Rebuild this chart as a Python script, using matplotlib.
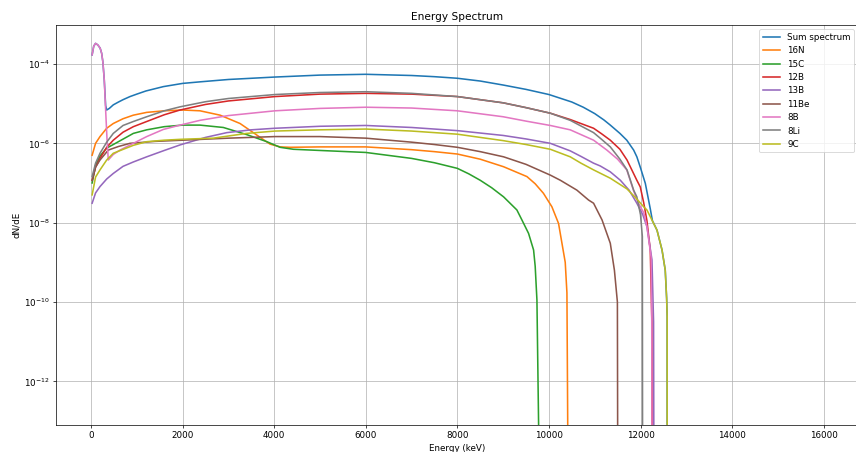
import numpy as np
import matplotlib
matplotlib.use("Agg")
import matplotlib.pyplot as plt

# Energies (keV) and dN/dE, one pair per isotope
e_sum = [25, 60, 100, 150, 200, 233, 260, 290, 320, 343, 400, 487, 600, 700, 852, 1000, 1200,
         1580, 2000, 2381, 3000, 4000, 5000, 6000, 7000, 7500, 8000, 8500, 9000, 9500, 10000,
         10500, 10750, 11000, 11200, 11340, 11550, 11700, 11850, 11920, 12000, 12105, 12213,
         12260, 12360, 12470, 12540, 12570, 12582, 12590]
sum_spectrum = [1.70e-4, 2.82e-4, 3.31e-4, 3.02e-4, 2.51e-4, 1.86e-4, 1.12e-4, 3.98e-5,
                8.91e-6, 6.92e-6, 7.59e-6, 9.33e-6, 1.10e-5, 1.26e-5, 1.51e-5, 1.74e-5,
                2.09e-5, 2.69e-5, 3.24e-5, 3.55e-5, 4.07e-5, 4.68e-5, 5.25e-5, 5.50e-5,
                5.13e-5, 4.79e-5, 4.37e-5, 3.72e-5, 2.95e-5, 2.29e-5, 1.70e-5, 1.10e-5,
                8.13e-6, 5.62e-6, 3.89e-6, 2.88e-6, 1.78e-6, 1.20e-6, 6.76e-7, 4.57e-7,
                2.40e-7, 9.77e-8, 2.24e-8, 1.12e-8, 6.46e-9, 2.04e-9, 6.31e-10, 1.26e-10,
                4.37e-11, 0.0]

e_16n = [25, 100, 197, 343, 487, 700, 925, 1217, 1600, 2000, 2380, 2820, 3255, 3620, 3910,
         4130, 4350, 5000, 6000, 7000, 7500, 8000, 8500, 9010, 9520, 9700, 9880, 10065, 10210,
         10356, 10393, 10415, 10420]
n16 = [5.01e-7, 1.00e-6, 1.48e-6, 2.40e-6, 3.16e-6, 4.17e-6, 5.13e-6, 6.03e-6, 6.61e-6,
       6.92e-6, 6.61e-6, 5.13e-6, 3.16e-6, 1.62e-6, 9.55e-7, 8.13e-7, 7.94e-7, 8.13e-7,
       8.13e-7, 6.92e-7, 6.17e-7, 5.37e-7, 3.98e-7, 2.57e-7, 1.45e-7, 9.55e-8, 5.50e-8,
       2.51e-8, 9.55e-9, 1.00e-9, 1.70e-10, 1.0e-14, 0.0]

e_15c = [25, 100, 197, 343, 487, 925, 1217, 1600, 2000, 2380, 2890, 3400, 3840, 4130, 4420,
         5000, 6000, 7000, 7500, 8000, 8250, 8500, 8750, 9010, 9300, 9410, 9555, 9665, 9700,
         9738, 9785, 9790]
c15 = [1.00e-7, 2.82e-7, 4.79e-7, 7.59e-7, 9.33e-7, 1.78e-6, 2.19e-6, 2.63e-6, 2.88e-6,
       2.88e-6, 2.51e-6, 1.66e-6, 1.10e-6, 7.94e-7, 7.08e-7, 6.61e-7, 5.89e-7, 4.17e-7,
       3.24e-7, 2.34e-7, 1.70e-7, 1.17e-7, 7.59e-8, 4.47e-8, 2.09e-8, 1.17e-8, 5.37e-9,
       2.04e-9, 7.94e-10, 1.12e-10, 1.0e-14, 0.0]

e_12b = [25, 100, 197, 343, 487, 700, 925, 1217, 1600, 1945, 2500, 3000, 4020, 5000, 6000,
         7000, 8000, 9000, 9500, 10030, 10465, 10975, 11150, 11340, 11550, 11705, 11920,
         11995, 12070, 12140, 12213, 12248, 12255, 12262]
b12 = [1.17e-7, 2.51e-7, 4.17e-7, 7.94e-7, 1.20e-6, 1.91e-6, 2.63e-6, 3.55e-6, 5.25e-6,
       6.92e-6, 9.55e-6, 1.17e-5, 1.51e-5, 1.74e-5, 1.82e-5, 1.74e-5, 1.51e-5, 1.05e-5,
       7.94e-6, 5.75e-6, 3.98e-6, 2.40e-6, 1.74e-6, 1.20e-6, 7.08e-7, 3.80e-7, 1.17e-7,
       7.94e-8, 3.16e-8, 1.12e-8, 2.04e-9, 3.16e-11, 1.0e-14, 0.0]

e_13b = [25, 100, 197, 343, 487, 700, 925, 1217, 1600, 1945, 2500, 2965, 3500, 4020, 5000,
         6000, 7000, 8000, 9000, 9500, 10030, 10465, 10700, 10975, 11120, 11340, 11560, 11750,
         11920, 12050, 12140, 12250, 12285, 12292, 12300]
b13 = [3.09e-8, 5.62e-8, 8.13e-8, 1.26e-7, 1.74e-7, 2.63e-7, 3.39e-7, 4.57e-7, 6.61e-7,
       9.12e-7, 1.41e-6, 1.86e-6, 2.19e-6, 2.40e-6, 2.69e-6, 2.82e-6, 2.51e-6, 2.09e-6,
       1.58e-6, 1.29e-6, 1.00e-6, 6.46e-7, 4.68e-7, 3.16e-7, 2.69e-7, 1.91e-7, 1.17e-7,
       6.61e-8, 3.09e-8, 1.58e-8, 7.94e-9, 1.15e-9, 3.16e-11, 1.0e-14, 0.0]

e_11be = [25, 100, 197, 378, 600, 852, 1400, 2000, 3000, 4020, 5000, 6000, 7000, 7500, 8000,
          8500, 9010, 9500, 10030, 10250, 10465, 10610, 10865, 10975, 11160, 11340, 11430,
          11495, 11502, 11510]
be11 = [1.17e-7, 2.51e-7, 3.80e-7, 6.76e-7, 8.32e-7, 1.00e-6, 1.12e-6, 1.20e-6, 1.35e-6,
        1.48e-6, 1.48e-6, 1.35e-6, 1.07e-6, 9.33e-7, 7.94e-7, 6.17e-7, 4.57e-7, 2.95e-7,
        1.58e-7, 1.17e-7, 8.32e-8, 6.61e-8, 3.72e-8, 3.09e-8, 1.17e-8, 3.02e-9, 6.31e-10,
        1.0e-10, 1.0e-14, 0.0]

e_8b = [25, 60, 100, 150, 200, 233, 260, 290, 320, 350, 378, 487, 634, 925, 1217, 1580, 1945,
        2381, 3000, 4020, 5000, 6000, 7000, 8000, 9000, 9500, 10030, 10465, 10975, 11265,
        11500, 11700, 11850, 11950, 12070, 12140, 12230, 12245, 12252, 12260]
b8 = [1.70e-4, 2.82e-4, 3.31e-4, 3.02e-4, 2.51e-4, 1.86e-4, 1.12e-4, 3.98e-5, 6.92e-6,
      1.26e-6, 3.80e-7, 5.25e-7, 6.76e-7, 1.00e-6, 1.48e-6, 2.24e-6, 2.88e-6, 3.80e-6,
      5.01e-6, 6.61e-6, 7.59e-6, 8.13e-6, 7.76e-6, 6.61e-6, 4.68e-6, 3.63e-6, 2.82e-6,
      2.19e-6, 1.20e-6, 6.76e-7, 3.98e-7, 2.14e-7, 6.31e-8, 3.16e-8, 1.78e-8, 7.94e-9,
      1.38e-9, 3.16e-11, 1.0e-14, 0.0]

e_8li = [25, 100, 197, 343, 487, 700, 925, 1217, 1600, 1945, 2500, 3000, 4020, 5000, 6000,
         7000, 8000, 9000, 9500, 10030, 10465, 10975, 11150, 11340, 11550, 11705, 11850,
         11920, 12000, 12040, 12045, 12050]
li8 = [1.45e-7, 3.16e-7, 5.62e-7, 1.07e-6, 1.78e-6, 2.82e-6, 3.55e-6, 4.68e-6, 6.61e-6,
       8.32e-6, 1.12e-5, 1.35e-5, 1.70e-5, 1.91e-5, 2.00e-5, 1.82e-5, 1.51e-5, 1.05e-5,
       7.94e-6, 5.75e-6, 3.80e-6, 1.86e-6, 1.26e-6, 8.13e-7, 3.98e-7, 2.14e-7, 6.61e-8,
       4.47e-8, 1.58e-8, 4.47e-9, 1.0e-14, 0.0]

e_9c = [25, 100, 197, 343, 487, 925, 1217, 1600, 1945, 2672, 3400, 4020, 5000, 6000, 7000,
        8000, 9000, 9500, 10030, 10465, 10700, 10975, 11340, 11705, 11900, 12070, 12140, 12360,
        12470, 12540, 12570, 12582, 12590]
c9 = [5.01e-8, 1.41e-7, 2.14e-7, 3.80e-7, 5.62e-7, 8.91e-7, 1.10e-6, 1.20e-6, 1.26e-6,
      1.35e-6, 1.78e-6, 2.04e-6, 2.19e-6, 2.29e-6, 2.04e-6, 1.70e-6, 1.17e-6, 9.33e-7,
      7.08e-7, 4.57e-7, 3.16e-7, 2.14e-7, 1.32e-7, 7.08e-8, 4.17e-8, 2.51e-8, 2.09e-8,
      6.46e-9, 2.04e-9, 6.31e-10, 1.26e-10, 4.37e-11, 0.0]

series = [
    (e_sum, sum_spectrum, 'Sum spectrum'),
    (e_16n, n16, '16N'),
    (e_15c, c15, '15C'),
    (e_12b, b12, '12B'),
    (e_13b, b13, '13B'),
    (e_11be, be11, '11Be'),
    (e_8b, b8, '8B'),
    (e_8li, li8, '8Li'),
    (e_9c, c9, '9C'),
]

fig = plt.figure(figsize=(856 / 63, 452 / 63), dpi=63)
ax = fig.add_axes([56 / 856, 1 - 425.3 / 452, 802.5 / 856, 400.3 / 452])

for energy, values, name in series:
    ax.plot(energy, values, label=name, linewidth=1.8)

ax.set_yscale('log')
ax.set_xlim(-764, 16760)
ax.set_ylim(10 ** -13.109, 10 ** -3.0167)
ax.set_title('Energy Spectrum')
ax.set_xlabel('Energy (keV)')
ax.set_ylabel('dN/dE')
ax.grid(True)
ax.legend(loc='upper right')

fig.savefig('out.png', dpi=63)
